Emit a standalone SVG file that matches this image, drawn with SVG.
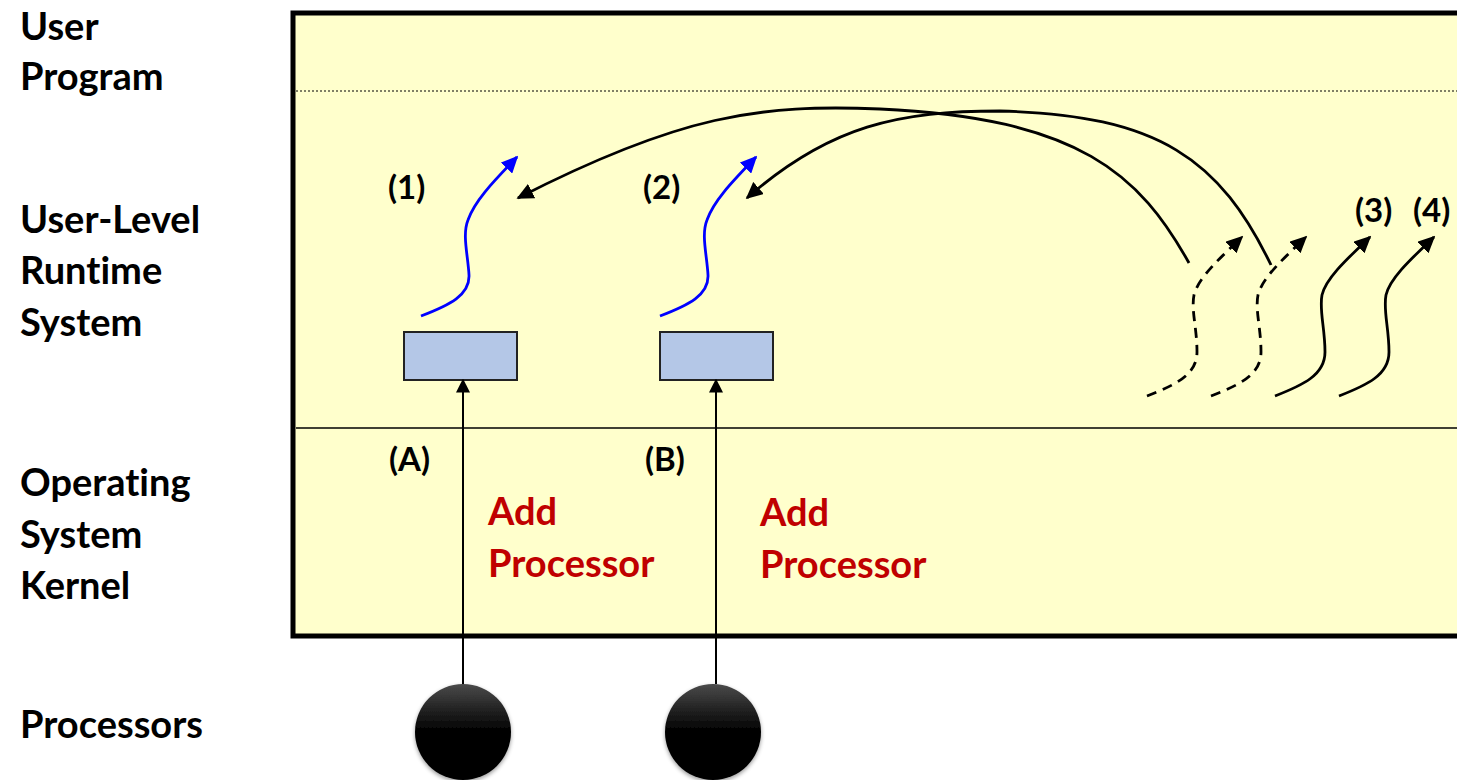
<svg xmlns="http://www.w3.org/2000/svg" width="1457" height="780" viewBox="0 0 1457 780">
<defs>
<style>
.lbl{font-family:Lato,"Open Sans","Liberation Sans",sans-serif;font-weight:bold;fill:#000;font-variant-ligatures:none;font-feature-settings:"liga" 0,"dlig" 0;}
.big{font-size:38px;}
.sm{font-size:33px;}
.red{fill:#C00000;}
.blk{fill:none;stroke:#000;stroke-width:2.8;}
.blue{fill:none;stroke:#0000FF;stroke-width:2.8;}
.dash{stroke-dasharray:10 7;}
.box{fill:#B4C7E7;stroke:#222;stroke-width:2;}
</style>
<marker id="ah" viewBox="0 0 10 10" refX="9" refY="5" markerWidth="17" markerHeight="16" markerUnits="userSpaceOnUse" orient="auto" preserveAspectRatio="none">
<path d="M0,0 L10,5 L0,10 z" fill="#000"/>
</marker>
<marker id="ahb" viewBox="0 0 10 10" refX="9" refY="5" markerWidth="17" markerHeight="16" markerUnits="userSpaceOnUse" orient="auto" preserveAspectRatio="none">
<path d="M0,0 L10,5 L0,10 z" fill="#0000FF"/>
</marker>
<marker id="ahv" viewBox="0 0 10 10" refX="9" refY="5" markerWidth="14" markerHeight="14" markerUnits="userSpaceOnUse" orient="auto">
<path d="M0,0 L10,5 L0,10 z" fill="#000"/>
</marker>
<linearGradient id="ball" x1="0" y1="0" x2="0" y2="1">
<stop offset="0" stop-color="#4a4a4a"/>
<stop offset="0.5" stop-color="#000"/>
<stop offset="1" stop-color="#000"/>
</linearGradient>
<filter id="sh" x="-30%" y="-30%" width="160%" height="160%">
<feGaussianBlur in="SourceAlpha" stdDeviation="2"/>
<feOffset dx="0" dy="2" result="b"/>
<feComponentTransfer><feFuncA type="linear" slope="0.4"/></feComponentTransfer>
<feMerge><feMergeNode/><feMergeNode in="SourceGraphic"/></feMerge>
</filter>
<path id="wave" d="M0,0 C28,-11 50,-21 50,-44 C50,-68 44,-86 47,-101 C51,-118 73,-138 95,-159"/>
</defs>

<rect width="1457" height="780" fill="#fff"/>

<g id="layers">
<rect x="293" y="13" width="1180" height="623" fill="#FFFFCC" stroke="#000" stroke-width="5"/>
<line x1="296" y1="91" x2="1457" y2="91" stroke="#000" stroke-width="1.2" stroke-dasharray="2 2"/>
<line x1="296" y1="428" x2="1457" y2="428" stroke="#000" stroke-width="1.5"/>
</g>

<g id="side-labels" class="lbl big">
<text x="20" y="40">User</text>
<text x="20" y="90">Program</text>
<text x="20" y="233">User-Level</text>
<text x="20" y="284">Runtime</text>
<text x="20" y="336">System</text>
<text x="20" y="496">Operating</text>
<text x="20" y="548">System</text>
<text x="20" y="599">Kernel</text>
<text x="20" y="738">Processors</text>
</g>

<g id="node-box-A"><rect class="box" x="404" y="332" width="113" height="48"/></g>
<g id="node-box-B"><rect class="box" x="660" y="332" width="113" height="48"/></g>

<g id="node-proc-A"><circle cx="463" cy="732" r="48" fill="url(#ball)" filter="url(#sh)"/></g>
<g id="node-proc-B"><circle cx="713" cy="732" r="48" fill="url(#ball)" filter="url(#sh)"/></g>

<g id="connectors">
<line x1="463" y1="684" x2="463" y2="380" stroke="#000" stroke-width="2" marker-end="url(#ahv)"/>
<line x1="716" y1="684" x2="716" y2="380" stroke="#000" stroke-width="2" marker-end="url(#ahv)"/>

<path class="blue" d="M421,316 C450,305 470,295 469,275 C468,255 462,235 468,220 C475,200 495,180 517,157" marker-end="url(#ahb)"/>
<path class="blue" d="M660,316 C689,305 709,295 708,275 C707,255 701,235 707,220 C714,200 734,180 756,157" marker-end="url(#ahb)"/>

<path class="blk" d="M1189,263 C1140,175 1080,118 880,109 C760,104 680,115 518,198" marker-end="url(#ah)"/>
<path class="blk" d="M1271,265 C1220,160 1160,115 1000,111 C900,111 830,125 747,198" marker-end="url(#ah)"/>

<use href="#wave" x="1147" y="396" class="blk dash" marker-end="url(#ah)"/>
<use href="#wave" x="1211" y="396" class="blk dash" marker-end="url(#ah)"/>
<use href="#wave" x="1275" y="396" class="blk" marker-end="url(#ah)"/>
<use href="#wave" x="1339" y="396" class="blk" marker-end="url(#ah)"/>
</g>

<g id="labels" class="lbl sm">
<text x="388" y="199">(1)</text>
<text x="643" y="199">(2)</text>
<text x="1355" y="222">(3)</text>
<text x="1413" y="222">(4)</text>
<text x="389" y="471">(A)</text>
<text x="645" y="471">(B)</text>
</g>

<g id="add-labels" class="lbl big red">
<text x="488" y="525">Add</text>
<text x="488" y="577">Processor</text>
<text x="760" y="526">Add</text>
<text x="760" y="578">Processor</text>
</g>
</svg>
